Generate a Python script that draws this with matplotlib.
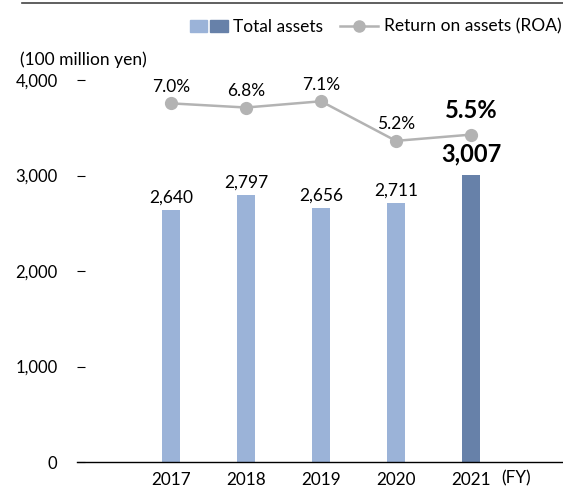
import matplotlib.pyplot as plt
from matplotlib.patches import Patch
from matplotlib.lines import Line2D
from matplotlib.legend_handler import HandlerTuple

plt.rcParams['font.family'] = ['Lato', 'DejaVu Sans']

# Data
years = ['2017', '2018', '2019', '2020', '2021']
total_assets = [2640, 2797, 2656, 2711, 3007]
roa = [7.0, 6.8, 7.1, 5.2, 5.5]

light = '#9bb3d8'
dark = '#6781a9'
grey = '#b3b3b3'

fig = plt.figure(figsize=(5.63, 4.87), dpi=100)
ax = fig.add_axes([0.1368, 0.0513, 0.8632, 0.7844])
idx = list(range(len(years)))
colors = [light] * (len(years) - 1) + [dark]
ax.bar(idx, total_assets, width=0.24, color=colors, zorder=2)

ax.set_xlim(-1.253, 5.227)
ax.set_ylim(0, 4000)
ax.set_yticks([0, 1000, 2000, 3000, 4000])
ax.set_yticklabels(['0', '1,000', '2,000', '3,000', '4,000'])
ax.set_xticks(idx)
ax.set_xticklabels(years)
for s in ['top', 'right', 'left']:
    ax.spines[s].set_visible(False)
ax.spines['bottom'].set_color('black')
ax.spines['bottom'].set_linewidth(1.0)
ax.tick_params(axis='y', direction='in', length=6, width=0.8, pad=14, labelsize=12)
ax.tick_params(axis='x', length=0, pad=7, labelsize=12.3)
ax.text(4.41, -0.042, '(FY)', transform=ax.get_xaxis_transform(), ha='left', va='center', fontsize=12.3)

# bar value labels
for i, v in enumerate(total_assets):
    last = i == len(years) - 1
    ax.text(i, v + (95 if last else 45), f'{v:,}', ha='center', va='bottom',
            fontsize=17 if last else 12.5, fontweight='bold' if last else 'normal')

# ROA line on hidden secondary axis
ax2 = ax.twinx()
ax2.set_ylim(-10.21, 8.12)
ax2.axis('off')
ax2.plot(idx, roa, color=grey, lw=1.8, marker='o', markersize=8.5, zorder=3)
for i, v in enumerate(roa):
    last = i == len(years) - 1
    ax2.text(i, v + (0.6 if last else 0.42), f'{v:.1f}%', ha='center', va='bottom',
             fontsize=17 if last else 12.5, fontweight='bold' if last else 'normal')

fig.text(0.035, 0.877, '(100 million yen)', ha='left', va='center', fontsize=12.5)

# top rule
fig.add_artist(Line2D([0.039, 1.0], [0.994, 0.994], color='#444444', lw=1.2))

handles = [(Patch(color=light), Patch(color=dark)),
           Line2D([], [], color=grey, lw=1.8, marker='o', markersize=8)]
fig.legend(handles, ['Total assets', 'Return on assets (ROA)'],
           handler_map={tuple: HandlerTuple(ndivide=None, pad=0.15)},
           loc='center right', bbox_to_anchor=(0.997, 0.945), ncol=2, frameon=False,
           fontsize=12.5, handlelength=2.2, handletextpad=0.3, columnspacing=1.0,
           borderaxespad=0, borderpad=0)

fig.savefig('out.png', dpi=100)
